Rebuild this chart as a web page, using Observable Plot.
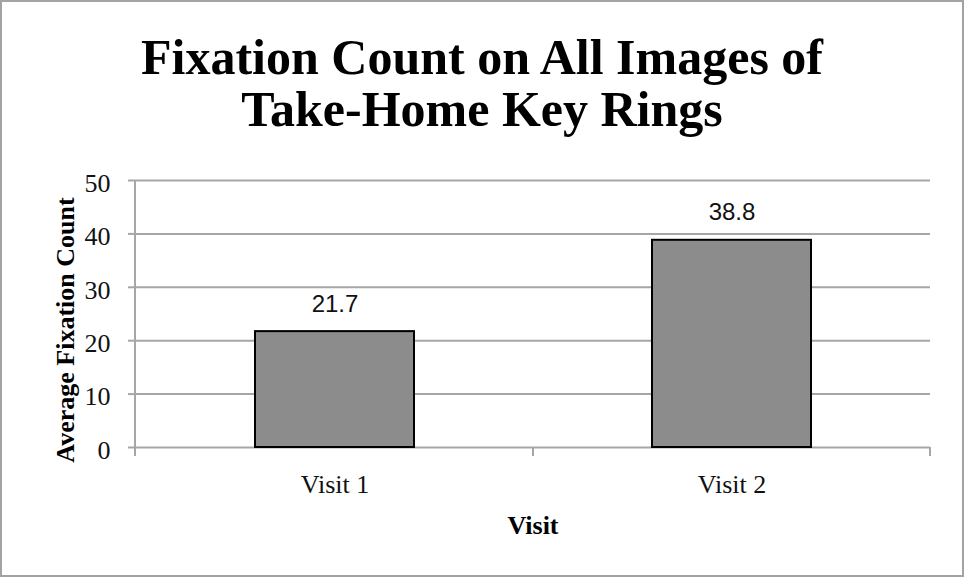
<!DOCTYPE html>
<html>
<head>
<meta charset="utf-8">
<script src="https://cdn.jsdelivr.net/npm/d3@7"></script>
<script src="https://cdn.jsdelivr.net/npm/@observablehq/plot@0.6"></script>
<style>
  html, body { margin: 0; padding: 0; background: #fff; }
  #wrap { position: relative; width: 964px; height: 577px; overflow: hidden; background: #fff; }
  #border { position: absolute; left: 0; top: 0; width: 964px; height: 577px; box-sizing: border-box; border: 2px solid #a3a3a3; pointer-events: none; }
  #title { position: absolute; left: 0; top: 0; width: 964px; padding-top: 31px; text-align: center;
           font-family: "Liberation Serif", "DejaVu Serif", serif; font-weight: bold; font-size: 50px; line-height: 52px; color: #000; }
  #chart { position: absolute; left: 0; top: 160px; }
</style>
</head>
<body>
<div id="wrap">
  <div id="title"></div>
  <div id="chart"></div>
  <div id="border"></div>
</div>
<script>
const titleLines = ["Fixation Count on All Images of", "Take-Home Key Rings"];
const categories = ["Visit 1", "Visit 2"];
const values = [21.7, 38.8];
const yTicks = [0, 10, 20, 30, 40, 50];
const xLabel = "Visit";
const yLabel = "Average Fixation Count";

const data = categories.map((c, i) => ({visit: c, value: values[i]}));

document.getElementById("title").innerHTML = titleLines.join("<br>");

const gray = "#a6a6a6";

function bandTicks(index, scales, values, dimensions) {
  const x = scales.x;
  const bw = typeof x.bandwidth === "function" ? x.bandwidth() : 0;
  const centers = categories.map(c => x(c) + bw / 2);
  const pos = [dimensions.marginLeft];
  for (let i = 1; i < centers.length; i++) pos.push((centers[i - 1] + centers[i]) / 2);
  pos.push(dimensions.width - dimensions.marginRight);
  const y0 = dimensions.height - dimensions.marginBottom;
  const g = d3.create("svg:g");
  g.selectAll("line").data(pos).join("line")
    .attr("x1", d => d).attr("x2", d => d)
    .attr("y1", (d, i) => i === 0 ? dimensions.marginTop : y0)
    .attr("y2", y0 + 9)
    .attr("stroke", gray).attr("stroke-width", 2);
  return g.node();
}

const chart = Plot.plot({
  width: 964,
  height: 417,
  marginLeft: 135,
  marginRight: 34,
  marginTop: 20,
  marginBottom: 130,
  style: {fontFamily: "'Liberation Serif', 'DejaVu Serif', serif", fontSize: "26px", color: "#000", background: "transparent"},
  x: {domain: categories, paddingInner: 0.6, paddingOuter: 0.3, axis: null},
  y: {domain: [0, 50], axis: null},
  marks: [
    Plot.ruleY(yTicks, {stroke: gray, strokeWidth: 2}),
    Plot.barY(data, {x: "visit", y: "value", fill: "#8c8c8c", stroke: "#000", strokeWidth: 2}),
    bandTicks,
    Plot.axisY(yTicks, {tickSize: 7, tickPadding: 18, stroke: gray, strokeWidth: 2, text: null, label: null}),
    Plot.text(yTicks, {frameAnchor: "left", y: d => d, text: d => String(d), textAnchor: "end", dx: -25, dy: 3, fill: "#111", fontSize: 26}),
    Plot.axisX({tickSize: 0, tickPadding: 27, fill: "#111", fontSize: 26, label: null}),
    Plot.text(data, {x: "visit", y: "value", text: d => d.value.toFixed(1), lineAnchor: "bottom", dy: -20,
      fontFamily: "'Liberation Sans', Arial, sans-serif", fontSize: 24, fill: "#111"}),
    Plot.text([xLabel], {frameAnchor: "bottom", lineAnchor: "bottom", dy: 86, fontWeight: "bold", fontSize: 26, fill: "#000"}),
    Plot.text([yLabel], {frameAnchor: "left", textAnchor: "middle", lineAnchor: "bottom", rotate: -90, dx: -62, dy: 16, fontWeight: "bold", fontSize: 26, fill: "#000"})
  ]
});
document.getElementById("chart").appendChild(chart);
</script>
</body>
</html>
